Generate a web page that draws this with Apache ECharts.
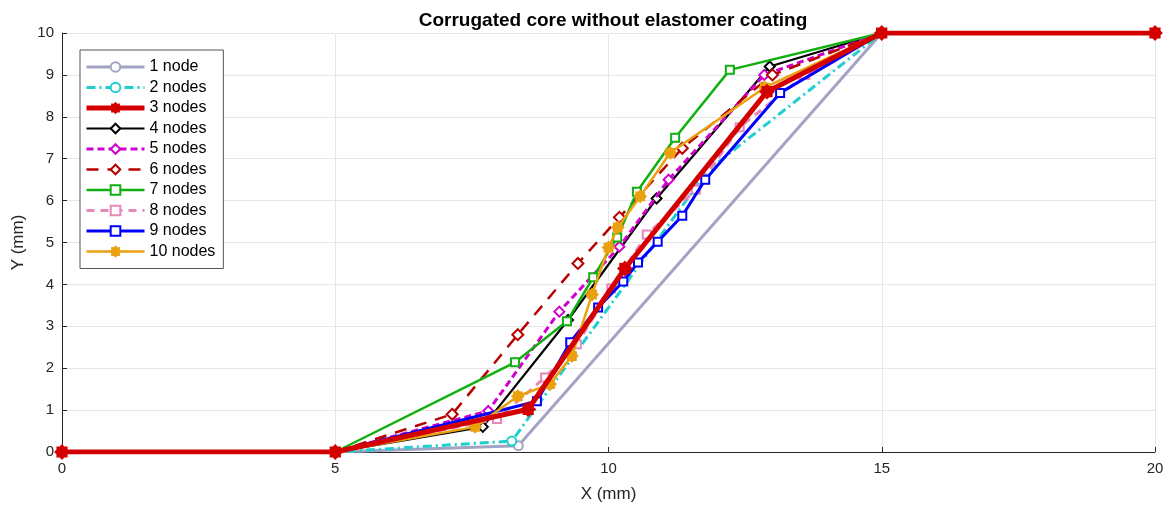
<!DOCTYPE html>
<html>
<head>
<meta charset="utf-8">
<script src="https://cdn.jsdelivr.net/npm/echarts@6/dist/echarts.min.js"></script>
<style>html,body{margin:0;padding:0;background:#fff}#c{width:1171px;height:508px}</style>
</head>
<body>
<div id="c"></div>
<script>
// shared end points
const startX = [0, 5];
const startY = [0, 0];
const endX = [15, 20];
const endY = [10, 10];

const names = ['1 node','2 nodes','3 nodes','4 nodes','5 nodes','6 nodes','7 nodes','8 nodes','9 nodes','10 nodes'];

// intermediate node coordinates per series
const n1x = [8.35]; const n1y = [0.15];
const n2x = [8.23, 11.82]; const n2y = [0.26, 6.72];
const n3x = [8.53, 10.3, 12.9]; const n3y = [1.02, 4.38, 8.6];
const n4x = [7.7, 9.26, 10.88, 12.95]; const n4y = [0.6, 3.15, 6.05, 9.2];
const n5x = [7.8, 9.1, 10.2, 11.1, 12.85]; const n5y = [0.98, 3.35, 4.9, 6.5, 9.0];
const n6x = [7.14, 8.34, 9.44, 10.2, 11.35, 13.0]; const n6y = [0.9, 2.8, 4.5, 5.6, 7.25, 9.0];
const n7x = [8.29, 9.24, 9.72, 10.16, 10.52, 11.22, 12.22]; const n7y = [2.14, 3.12, 4.17, 5.12, 6.21, 7.5, 9.12];
const n8x = [7.96, 8.84, 9.42, 10.05, 10.7, 11.6, 12.4, 13.6]; const n8y = [0.79, 1.78, 2.57, 3.9, 5.19, 6.26, 7.75, 9.0];
const n9x = [8.69, 9.3, 9.81, 10.27, 10.54, 10.9, 11.35, 11.77, 13.14]; const n9y = [1.21, 2.62, 3.45, 4.07, 4.52, 5.02, 5.64, 6.5, 8.57];
const n10x = [7.56, 8.34, 8.93, 9.33, 9.7, 10.0, 10.17, 10.58, 11.13, 12.86]; const n10y = [0.6, 1.33, 1.62, 2.29, 3.76, 4.88, 5.36, 6.1, 7.14, 8.7];

const xTicks = [0, 5, 10, 15, 20];
const yTicks = [0, 1, 2, 3, 4, 5, 6, 7, 8, 9, 10];

const nodeX = [n1x, n2x, n3x, n4x, n5x, n6x, n7x, n8x, n9x, n10x];
const nodeY = [n1y, n2y, n3y, n4y, n5y, n6y, n7y, n8y, n9y, n10y];

// jagged "asterisk blob" marker
function gearPath() {
  const pts = [];
  const n = 16;
  for (let k = 0; k < n; k++) {
    const a = Math.PI * 2 * k / n - Math.PI / 2;
    const r = (k % 2 === 0) ? 50 : 38;
    pts.push((50 + r * Math.cos(a)).toFixed(1) + ',' + (50 + r * Math.sin(a)).toFixed(1));
  }
  return 'path://M' + pts.join(' L') + ' Z';
}
const star = gearPath();
const styles = [
  {color:'#a3a3c4', width:3, type:'solid', symbol:'emptyCircle', size:9, z:2},
  {color:'#1fcfcf', width:3, type:[9,4,2,4], symbol:'emptyCircle', size:9, z:3},
  {color:'#d40000', width:5, type:'solid', symbol:star, size:13, z:12},
  {color:'#000000', width:2.2, type:'solid', symbol:'emptyDiamond', size:10, z:4},
  {color:'#d000d0', width:3, type:[7,4], symbol:'emptyDiamond', size:10, z:5},
  {color:'#b80000', width:2.5, type:[12,9], symbol:'emptyDiamond', size:11, z:6},
  {color:'#10b010', width:2.5, type:'solid', symbol:'emptyRect', size:8, z:7},
  {color:'#e888b8', width:3, type:[8,6], symbol:'emptyRect', size:8, z:8},
  {color:'#0000ff', width:3, type:'solid', symbol:'emptyRect', size:8, z:9},
  {color:'#eba010', width:2.5, type:'solid', symbol:star, size:11, z:10}
];

const series = names.map((nm, i) => {
  const xs = startX.concat(nodeX[i], endX);
  const ys = startY.concat(nodeY[i], endY);
  const s = styles[i];
  return {
    name: nm, type: 'line', z: s.z,
    data: xs.map((x, k) => [x, ys[k]]),
    symbol: s.symbol, symbolSize: s.size, showAllSymbol: true,
    itemStyle: {color: s.color, borderColor: s.color, borderWidth: 2},
    lineStyle: {color: s.color, width: s.width, type: s.type},
    emphasis: {disabled: true},
    animation: false
  };
});

const F = 'Liberation Sans, Arial, sans-serif';
const chart = echarts.init(document.getElementById('c'), null, {renderer: 'canvas'});
chart.setOption({
  backgroundColor: '#ffffff',
  animation: false,
  title: {
    text: 'Corrugated core without elastomer coating',
    left: 608, top: 6, textAlign: 'center',
    textStyle: {fontFamily: F, fontSize: 19, fontWeight: 'bold', color: '#000'}
  },
  grid: {left: 62, right: 16, top: 33, bottom: 55},
  legend: {
    orient: 'vertical', left: 80, top: 50,
    data: names,
    itemWidth: 58, itemHeight: 12, itemGap: 4.5,
    padding: [9, 8, 9, 4],
    backgroundColor: '#ffffff', borderColor: '#555', borderWidth: 1,
    lineStyle: {width: 'inherit'},
    textStyle: {fontFamily: F, fontSize: 16, color: '#000', padding: [0, 0, 0, 0]}
  },
  xAxis: {
    type: 'value', min: 0, max: 20, interval: 5,
    name: 'X (mm)', nameLocation: 'middle', nameGap: 34,
    nameTextStyle: {fontFamily: F, fontSize: 17, color: '#262626'},
    axisLine: {show: true, lineStyle: {color: '#262626', width: 1}},
    axisTick: {show: true, inside: true, length: 5, lineStyle: {color: '#262626'}},
    axisLabel: {fontFamily: F, fontSize: 15, color: '#262626', margin: 9,
      formatter: v => xTicks.includes(v) ? String(v) : ''},
    splitLine: {show: true, lineStyle: {color: '#e6e6e6', width: 1}}
  },
  yAxis: {
    type: 'value', min: 0, max: 10, interval: 1,
    name: 'Y (mm)', nameLocation: 'middle', nameGap: 34,
    nameTextStyle: {fontFamily: F, fontSize: 17, color: '#262626'},
    axisLine: {show: true, lineStyle: {color: '#262626', width: 1}},
    axisTick: {show: true, inside: true, length: 5, lineStyle: {color: '#262626'}},
    axisLabel: {fontFamily: F, fontSize: 15, color: '#262626', margin: 8,
      formatter: v => yTicks.includes(v) ? String(v) : ''},
    splitLine: {show: true, lineStyle: {color: '#e6e6e6', width: 1}}
  },
  series: series
});
</script>
</body>
</html>
